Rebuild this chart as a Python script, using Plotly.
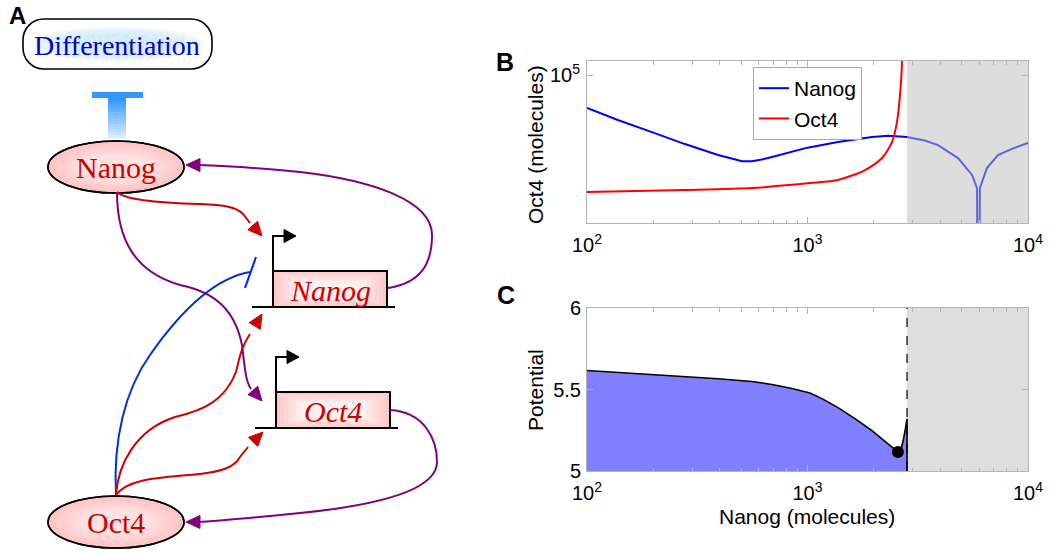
import math
import plotly.graph_objects as go

# ---------------- Data ----------------
# Panel B: nullclines (Oct4 molecules vs Nanog molecules)
nanog_x = [100, 138, 197, 278, 393, 470, 505, 560, 620, 690, 851, 1000, 1375, 1962, 2318,
           2827, 3400, 3908, 4817, 5575, 5875, 5930, 6050, 6510, 7310, 8460, 10000]
nanog_y = [69980, 61500, 53950, 47400, 42100, 40000, 39400, 39400, 40100, 41250, 43450, 45600,
           48450, 51200, 51800, 51200, 49300, 46900, 40750, 33950, 29450, 1000, 29450, 36550,
           42100, 45000, 47950]
oct4_x = [100, 278, 560, 1026, 1375, 1824, 2178, 2416, 2545, 2628, 2686, 2720]
oct4_y = [28250, 28850, 29450, 31100, 32150, 35800, 40750, 48400, 60100, 80500, 116400, 300000]

# Boundary of the region shaded grey (Nanog molecules)
boundary_x = 2827

# Panel C: potential along Nanog
pot_x = [100, 138, 197, 278, 393, 560, 690, 851, 1026, 1164, 1375, 1641, 1962, 2318, 2570,
         2650, 2720, 2780, 2815, 2827, 2827]
pot_y = [5.617, 5.605, 5.593, 5.580, 5.566, 5.549, 5.531, 5.506, 5.478, 5.444, 5.389, 5.321,
         5.247, 5.167, 5.117, 5.13, 5.19, 5.26, 5.31, 5.32, 5.0]
min_x = [2570]
min_y = [5.117]

x_ticks = [100, 1000, 10000]
x_ticktext = ["10<sup>2</sup>", "10<sup>3</sup>", "10<sup>4</sup>"]
b_yticks = [100000]
b_yticktext = ["10<sup>5</sup>"]
c_yticks = [5, 5.5, 6]
c_yticktext = ["5", "5.5", "6"]

W, H = 1050, 553
SANS = "Arial, Liberation Sans, sans-serif"
SERIF = "Times New Roman, Liberation Serif, serif"

fig = go.Figure()

# ---- Panel B traces ----
fig.add_trace(go.Scatter(x=nanog_x, y=nanog_y, mode="lines", name="Nanog",
                         line=dict(color="#0000ff", width=2), xaxis="x", yaxis="y"))
fig.add_trace(go.Scatter(x=oct4_x, y=oct4_y, mode="lines", name="Oct4",
                         line=dict(color="#ff0000", width=2, shape="spline", smoothing=0.7),
                         xaxis="x", yaxis="y"))
fig.add_trace(go.Scatter(x=[boundary_x, 10000, 10000, boundary_x, boundary_x],
                         y=[1e3, 1e3, 1e7, 1e7, 1e3], mode="none", fill="toself",
                         fillcolor="rgba(190,190,190,0.52)", showlegend=False,
                         hoverinfo="skip", xaxis="x", yaxis="y"))

# ---- Panel C traces ----
fig.add_trace(go.Scatter(x=[boundary_x, 10000, 10000, boundary_x, boundary_x],
                         y=[5, 5, 6, 6, 5], mode="none", fill="toself",
                         fillcolor="#dedede", showlegend=False, hoverinfo="skip",
                         xaxis="x2", yaxis="y2"))
fig.add_trace(go.Scatter(x=pot_x, y=pot_y, mode="lines", fill="tozeroy",
                         fillcolor="#8080ff", line=dict(color="black", width=1.6),
                         showlegend=False, xaxis="x2", yaxis="y2"))
fig.add_trace(go.Scatter(x=[boundary_x, boundary_x], y=[5, 6], mode="lines",
                         line=dict(color="black", width=1.2, dash="dash"),
                         showlegend=False, xaxis="x2", yaxis="y2"))
fig.add_trace(go.Scatter(x=min_x, y=min_y, mode="markers",
                         marker=dict(color="black", size=12), showlegend=False,
                         xaxis="x2", yaxis="y2"))

# ---- invisible trace for diagram axes ----
fig.add_trace(go.Scatter(x=[0], y=[0], mode="markers", marker=dict(opacity=0),
                         showlegend=False, hoverinfo="skip", xaxis="x3", yaxis="y3"))

minor_vals = [m * 10 ** e for e in (2, 3) for m in range(2, 10)]

def xax(anchor):
    return dict(type="log", range=[2, 4], domain=[587 / W, 1028 / W], anchor=anchor,
                showline=True, linecolor="#b4b4b4", linewidth=1, mirror="ticks",
                ticks="inside", ticklen=6, tickcolor="#b4b4b4",
                tickmode="array", tickvals=x_ticks, ticktext=x_ticktext,
                tickfont=dict(family=SANS, size=20, color="black"),
                minor=dict(tickmode="array", tickvals=minor_vals, ticks="inside",
                           ticklen=3.5, tickcolor="#b4b4b4", showgrid=False),
                showgrid=False, zeroline=False, ticklabelstandoff=4, automargin=False)

fig.update_layout(
    width=W, height=H, autosize=False,
    margin=dict(l=0, r=0, t=0, b=0, pad=0, autoexpand=False),
    paper_bgcolor="white", plot_bgcolor="white",
    xaxis=xax("y"),
    xaxis2=xax("y2"),
    yaxis=dict(type="log", range=[4.305, 5.066], domain=[1 - 223 / H, 1 - 61 / H],
               anchor="x", showline=True, linecolor="#b4b4b4", mirror="ticks",
               ticks="inside", ticklen=6, tickcolor="#b4b4b4", tickmode="array",
               tickvals=b_yticks, ticktext=b_yticktext,
               tickfont=dict(family=SANS, size=20, color="black"),
               showgrid=False, zeroline=False, ticklabelstandoff=2, automargin=False),
    yaxis2=dict(range=[5, 6], domain=[1 - 471 / H, 1 - 308 / H], anchor="x2",
                showline=True, linecolor="#b4b4b4", mirror="ticks", ticks="inside",
                ticklen=6, tickcolor="#b4b4b4", tickmode="array", tickvals=c_yticks,
                ticktext=c_yticktext, tickfont=dict(family=SANS, size=20, color="black"),
                showgrid=False, zeroline=False, ticklabelstandoff=1, automargin=False),
    xaxis3=dict(range=[0, 480], domain=[0, 480 / W], anchor="y3", visible=False,
                automargin=False),
    yaxis3=dict(range=[H, 0], domain=[0, 1], anchor="x3", visible=False,
                automargin=False),
    legend=dict(x=753 / W, y=1 - 67 / H, xanchor="left", yanchor="top",
                bordercolor="#a8a8a8", borderwidth=1, bgcolor="white",
                font=dict(family=SANS, size=21, color="black"),
                itemwidth=30, tracegroupgap=0),
    showlegend=True,
)

shapes = []
annots = []

def P(d, color, width=2, fill=None):
    s = dict(type="path", path=d, line=dict(color=color, width=width),
             xref="x3", yref="y3", layer="above")
    if fill:
        s["fillcolor"] = fill
    shapes.append(s)

def arrowhead(tip, frm, color, L=14, hw=6.5):
    dx, dy = tip[0] - frm[0], tip[1] - frm[1]
    n = math.hypot(dx, dy)
    dx, dy = dx / n, dy / n
    bx, by = tip[0] - L * dx, tip[1] - L * dy
    px, py = -dy * hw, dx * hw
    d = f"M{tip[0]},{tip[1]} L{bx+px},{by+py} L{bx-px},{by-py} Z"
    P(d, color, width=1, fill=color)

def ellipse(cx, cy, rx, ry, fill, line=None, lw=0):
    s = dict(type="circle", x0=cx - rx, x1=cx + rx, y0=cy - ry, y1=cy + ry,
             xref="x3", yref="y3", fillcolor=fill, layer="above",
             line=dict(width=lw, color=line if line else fill))
    shapes.append(s)

def rect(x0, y0, x1, y1, fill, line=None, lw=0):
    s = dict(type="rect", x0=x0, x1=x1, y0=y0, y1=y1, xref="x3", yref="y3",
             fillcolor=fill, layer="above",
             line=dict(width=lw, color=line if line else "rgba(0,0,0,0)"))
    shapes.append(s)

def rrect_path(x0, y0, x1, y1, r):
    k = 0.5523 * r
    return (f"M{x0+r},{y0} L{x1-r},{y0} C{x1-r+k},{y0} {x1},{y0+r-k} {x1},{y0+r} "
            f"L{x1},{y1-r} C{x1},{y1-r+k} {x1-r+k},{y1} {x1-r},{y1} "
            f"L{x0+r},{y1} C{x0+r-k},{y1} {x0},{y1-r+k} {x0},{y1-r} "
            f"L{x0},{y0+r} C{x0},{y0+r-k} {x0+r-k},{y0} {x0+r},{y0} Z")

def text(x, y, s, color, size, family=SERIF, italic=False, bold=False):
    t = s
    if italic:
        t = f"<i>{s}</i>"
    if bold:
        t = f"<b>{s}</b>"
    annots.append(dict(x=x, y=y, xref="x3", yref="y3", text=t, showarrow=False,
                       font=dict(family=family, size=size, color=color),
                       xanchor="center", yanchor="middle"))

def mix(c0, c1, f):
    return "rgb(%d,%d,%d)" % tuple(round(c0[j] + (c1[j] - c0[j]) * f) for j in range(3))

RED = "#d00000"
PURPLE = "#800080"
BLUE = "#0033cc"

# Differentiation box with soft glow
P(rrect_path(23, 19, 212, 69, 21), "black", width=1.6, fill="white")
for k in range(5):
    f = k / 4
    ellipse(117, 44, 86 - 30 * f, 17 - 7 * f, "rgba(205,232,255,0.28)")
text(117, 45, "Differentiation", "#0000cc", 28)

# T-bar (repression of differentiation) with gradient
rect(92, 92, 143, 98, "#3399ff")
n_sl = 14
for i in range(n_sl):
    f = i / (n_sl - 1)
    ya = 98 + (138 - 98) * i / n_sl
    yb = 98 + (138 - 98) * (i + 1) / n_sl + 0.5
    rect(108, ya, 126, yb, mix((51, 153, 255), (215, 236, 255), f))

# Nodes (ellipses) with radial-looking gradient
PINK_OUT, PINK_IN = (255, 198, 198), (255, 226, 226)
for cy, label in ((167, "Nanog"), (522, "Oct4")):
    ellipse(116, cy, 68, 26, mix(PINK_OUT, PINK_OUT, 0), line="black", lw=1.6)
    for k in range(1, 7):
        f = k / 6
        ellipse(116, cy, 66 - 30 * f, 24 - 12 * f, mix(PINK_OUT, PINK_IN, f))
    ellipse(116, cy, 68, 26, "rgba(0,0,0,0)", line="black", lw=1.6)
    text(116, cy, label, "#cc0000", 30)

# Genes (boxes)
BOX_OUT, BOX_IN = (255, 200, 200), (255, 240, 240)
for (bx0, by0, bx1, by1, px, py, label) in ((273, 271, 387, 307, 273, 236, "Nanog"),
                                             (276, 392, 390, 428, 276, 357, "Oct4")):
    for k in range(7):
        f = k / 6
        rect(bx0 + 24 * f, by0 + 10 * f, bx1 - 24 * f, by1 - 10 * f,
             mix(BOX_OUT, BOX_IN, f))
    rect(bx0, by0, bx1, by1, "rgba(0,0,0,0)", line="black", lw=2)
    P(f"M{bx0-21},{by1} L{bx1+8},{by1}", "black", width=2)
    P(f"M{px},{by0} L{px},{py} L{px+11},{py}", "black", width=2)
    P(f"M{px+23},{py} L{px+11},{py-6.5} L{px+11},{py+6.5} Z", "black", width=1, fill="black")
    text((bx0 + bx1) / 2, (by0 + by1) / 2 + 1, label, "#cc0000", 30, italic=True)

# Edges
# Nanog -> Nanog promoter (red)
P("M117,192 C125,200 160,203 200,204 C225,205 236,207 243,214 L250,223", RED)
arrowhead((262, 236), (246, 218), RED)
# Nanog -> Oct4 promoter (purple)
P("M117,192 C117,240 135,272 180,285 C215,292 235,310 242,345 C245,370 246,382 251,389",
  PURPLE)
arrowhead((262, 401), (249, 386), PURPLE)
# Nanog gene -> Nanog protein (purple)
P("M388,288 C420,283 432,265 432,235 C432,200 370,180 300,172 C260,168 230,166 198,165",
  PURPLE)
arrowhead((186, 165), (205, 165), PURPLE)
# Oct4 -| Nanog promoter (blue)
P("M116,495 C113,440 125,390 150,355 C180,312 215,278 250,272", BLUE)
P("M256,257 L245,288", BLUE, width=2.2)
# Oct4 -> Nanog promoter (red)
P("M116,495 C118,465 135,430 175,417 C205,410 225,400 236,372 C239,360 241,347 250,334",
  RED)
arrowhead((262, 314), (247, 339), RED)
# Oct4 -> Oct4 promoter (red)
P("M116,495 C128,478 160,478 200,474 C225,471 235,466 240,457 L248,447", RED)
arrowhead((263, 432), (245, 450), RED)
# Oct4 gene -> Oct4 protein (purple)
P("M390,410 C425,412 437,440 437,462 C437,490 380,505 300,513 C250,518 220,521 198,522",
  PURPLE)
arrowhead((186, 522), (205, 522), PURPLE)

# Panel labels and axis titles (paper coords)
def ptext(x, y, s, size, angle=0, bold=False):
    annots.append(dict(x=x / W, y=1 - y / H, xref="paper", yref="paper",
                       text=f"<b>{s}</b>" if bold else s, showarrow=False,
                       textangle=angle, xanchor="center", yanchor="middle",
                       font=dict(family=SANS, size=size, color="black")))

ptext(17, 16, "A", 24, bold=True)
ptext(505, 62, "B", 25, bold=True)
ptext(506, 295, "C", 25, bold=True)
ptext(535, 145, "Oct4 (molecules)", 21, angle=-90)
ptext(535, 390, "Potential", 21, angle=-90)
ptext(807, 516, "Nanog (molecules)", 21)

fig.update_layout(shapes=shapes, annotations=annots)
fig.write_html("out.html", config={"displayModeBar": False},
               post_script="document.body.style.margin='0';"
                           "document.body.style.overflow='hidden';")
